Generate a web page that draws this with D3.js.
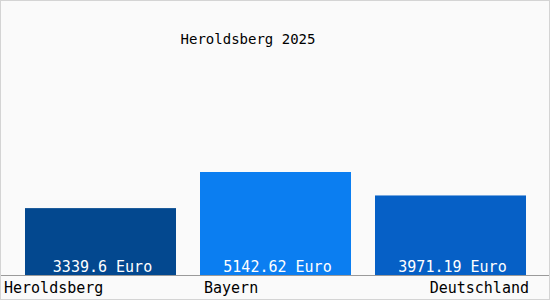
<!DOCTYPE html>
<html>
<head>
<meta charset="utf-8">
<script src="https://cdn.jsdelivr.net/npm/d3@7"></script>
<style>
  body { margin: 0; background: #fff; }
  svg { display: block; }
  text { font-family: "DejaVu Sans Mono", monospace; }
</style>
</head>
<body>
<div id="chart"></div>
<script>
// values
const categories = ["Heroldsberg", "Bayern", "Deutschland"];
const values = [3339.6, 5142.62, 3971.19];
const labels = ["3339.6 Euro", "5142.62 Euro", "3971.19 Euro"];
const colors = ["#03488f", "#0b7ef1", "#0660c6"];
const title = "Heroldsberg 2025";

(function () {
  const width = 550, height = 300;
  const svg = d3.select("#chart")
    .append("svg")
    .attr("width", width)
    .attr("height", height);

  svg.append("rect")
    .attr("x", 0.5).attr("y", 0.5)
    .attr("width", width - 1).attr("height", height - 1)
    .attr("fill", "#fafafa")
    .attr("stroke", "#d4d4d4");

  const x = d3.scaleBand().domain(categories).range([13, 538])
    .paddingInner(24 / 175).paddingOuter(12 / 175);
  const y = d3.scaleLinear().domain([0, d3.max(values)]).range([275, 172]);

  svg.append("g")
    .selectAll("rect")
    .data(categories)
    .enter()
    .append("rect")
    .attr("x", d => x(d))
    .attr("y", (d, i) => y(values[i]))
    .attr("width", x.bandwidth())
    .attr("height", (d, i) => y(0) - y(values[i]))
    .attr("fill", (d, i) => colors[i]);

  svg.append("g")
    .selectAll("text")
    .data(categories)
    .enter()
    .append("text")
    .attr("x", d => x(d) + x.bandwidth() / 2 + 2)
    .attr("y", y(0) - 3)
    .attr("text-anchor", "middle")
    .attr("fill", "#fff")
    .style("font-size", "15px")
    .text((d, i) => labels[i]);

  svg.append("line")
    .attr("x1", 1).attr("x2", width - 1)
    .attr("y1", y(0) + 0.5).attr("y2", y(0) + 0.5)
    .attr("stroke", "#9a9a9a");

  // first label hugs the left edge, last one the right edge
  const n = categories.length;
  svg.append("g")
    .selectAll("text")
    .data(categories)
    .enter()
    .append("text")
    .attr("x", (d, i) => i === 0 ? 4 : i === n - 1 ? x(d) + x.bandwidth() + 3 : x(d) + 4)
    .attr("y", 293)
    .attr("text-anchor", (d, i) => i === n - 1 ? "end" : "start")
    .attr("fill", "#000")
    .style("font-size", "15px")
    .text(d => d);

  svg.append("text")
    .attr("x", 248)
    .attr("y", 44)
    .attr("text-anchor", "middle")
    .style("font-size", "14px")
    .text(title);
})();
</script>
</body>
</html>
